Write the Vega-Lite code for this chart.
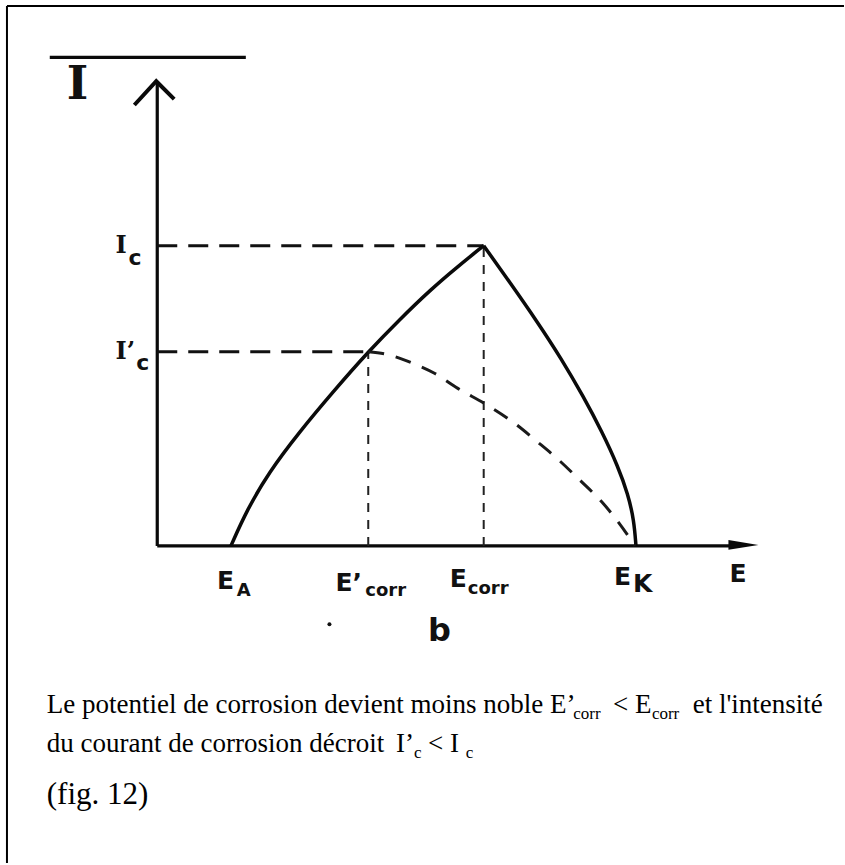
{
  "$schema": "https://vega.github.io/schema/vega-lite/v6.json",
  "width": 845,
  "height": 865,
  "autosize": {"type": "fit", "contains": "padding"},
  "padding": 0,
  "background": "white",
  "view": {"stroke": null},
  "datasets": {
    "frame": [
      {"E": -15.1, "E2": -15.1, "I": -32, "I2": 54.5},
      {"E": -15.1, "E2": 69, "I": 54.5, "I2": 54.5}
    ],
    "axes": [
      {"E": 0, "E2": 0, "I": 0, "I2": 46.9},
      {"E": 0, "E2": 58.5, "I": 0, "I2": 0},
      {"E": -10.8, "E2": 8.9, "I": 49.3, "I2": 49.3}
    ],
    "arrowUp": [
      {"E": -2.3, "I": 44.5, "k": 0},
      {"E": -0.1, "I": 46.9, "k": 1},
      {"E": 1.7, "I": 45.1, "k": 2}
    ],
    "arrowRight": [{"E": 58.9, "I": 0.1}],
    "levels": [
      {"E": 0, "E2": 32.8, "I": 30.3, "I2": 30.3},
      {"E": 0, "E2": 21.2, "I": 19.6, "I2": 19.6}
    ],
    "drops": [
      {"E": 21.2, "E2": 21.2, "I": 0, "I2": 19.6},
      {"E": 32.8, "E2": 32.8, "I": 0, "I2": 30.3}
    ],
    "curves": [
      {"branch": "anodique", "E": 7.4, "I": 0},
      {"branch": "anodique", "E": 9.0, "I": 3.6},
      {"branch": "anodique", "E": 11.2, "I": 7.4},
      {"branch": "anodique", "E": 14.2, "I": 11.4},
      {"branch": "anodique", "E": 17.7, "I": 15.6},
      {"branch": "anodique", "E": 21.2, "I": 19.6},
      {"branch": "anodique", "E": 24.3, "I": 22.8},
      {"branch": "anodique", "E": 27.5, "I": 25.9},
      {"branch": "anodique", "E": 30.2, "I": 28.2},
      {"branch": "anodique", "E": 32.8, "I": 30.3},
      {"branch": "cathodique", "E": 32.8, "I": 30.3},
      {"branch": "cathodique", "E": 35.5, "I": 26.5},
      {"branch": "cathodique", "E": 38.2, "I": 22.6},
      {"branch": "cathodique", "E": 40.6, "I": 18.9},
      {"branch": "cathodique", "E": 42.8, "I": 15.1},
      {"branch": "cathodique", "E": 44.7, "I": 11.5},
      {"branch": "cathodique", "E": 46.3, "I": 8.0},
      {"branch": "cathodique", "E": 47.3, "I": 5.2},
      {"branch": "cathodique", "E": 47.9, "I": 2.6},
      {"branch": "cathodique", "E": 48.1, "I": 0},
      {"branch": "cathodique modifiée", "E": 21.2, "I": 19.6},
      {"branch": "cathodique modifiée", "E": 23.2, "I": 19.3},
      {"branch": "cathodique modifiée", "E": 25.5, "I": 18.5},
      {"branch": "cathodique modifiée", "E": 27.9, "I": 17.4},
      {"branch": "cathodique modifiée", "E": 30.2, "I": 15.9},
      {"branch": "cathodique modifiée", "E": 33.0, "I": 14.3},
      {"branch": "cathodique modifiée", "E": 36.0, "I": 12.3},
      {"branch": "cathodique modifiée", "E": 38.2, "I": 10.5},
      {"branch": "cathodique modifiée", "E": 40.2, "I": 8.8},
      {"branch": "cathodique modifiée", "E": 42.5, "I": 6.6},
      {"branch": "cathodique modifiée", "E": 44.7, "I": 4.4},
      {"branch": "cathodique modifiée", "E": 46.4, "I": 2.3},
      {"branch": "cathodique modifiée", "E": 48.0, "I": 0}
    ],
    "bigLetters": [
      {"t": "E", "E": 6.0, "I": -4.4},
      {"t": "E’", "E": 17.9, "I": -4.6},
      {"t": "E", "E": 29.4, "I": -4.1},
      {"t": "E", "E": 45.9, "I": -3.9},
      {"t": "K", "E": 47.8, "I": -4.7},
      {"t": "E", "E": 57.5, "I": -3.6}
    ],
    "subLetters": [
      {"t": "A", "E": 8.0, "I": -5.1},
      {"t": "corr", "E": 20.9, "I": -5.1},
      {"t": "corr", "E": 31.2, "I": -4.9}
    ],
    "yLetters": [
      {"t": "I", "E": -4.2, "I": 29.6},
      {"t": "I’", "E": -4.2, "I": 18.9}
    ],
    "ySubs": [
      {"t": "c", "E": -2.9, "I": 28.4},
      {"t": "c", "E": -2.1, "I": 17.8}
    ],
    "axisTitle": [{"t": "I", "E": -8.0, "I": 45.1}],
    "panel": [{"t": "b", "E": 27.2, "I": -9.6}],
    "speck": [{"E": 17.3, "I": -7.9}],
    "caption": [
      {"t": "Le potentiel de corrosion devient moins noble E’", "E": -11.1, "I": -16.9},
      {"t": "< E", "E": 45.8, "I": -16.9},
      {"t": "et l'intensité", "E": 53.8, "I": -16.9},
      {"t": "du courant de corrosion décroit", "E": -11.1, "I": -20.8},
      {"t": "I’", "E": 24.0, "I": -20.8},
      {"t": "< I", "E": 27.2, "I": -20.8}
    ],
    "captionSubs": [
      {"t": "corr", "E": 41.8, "I": -17.5},
      {"t": "corr", "E": 49.7, "I": -17.5},
      {"t": "c", "E": 25.8, "I": -21.4},
      {"t": "c", "E": 31.0, "I": -21.4}
    ],
    "figure": [{"t": "(fig. 12)", "E": -11.1, "I": -26.1}]
  },
  "encoding": {
    "x": {"field": "E", "type": "quantitative", "scale": {"domain": [-15.8, 68.7], "nice": false, "zero": false}, "axis": null},
    "y": {"field": "I", "type": "quantitative", "scale": {"domain": [-31.4, 55.1], "nice": false, "zero": false}, "axis": null}
  },
  "layer": [
    {
      "data": {"name": "frame"},
      "mark": {"type": "rule", "color": "#000", "strokeWidth": 2},
      "encoding": {"x2": {"field": "E2"}, "y2": {"field": "I2"}}
    },
    {
      "data": {"name": "axes"},
      "mark": {"type": "rule", "color": "#0a0a0a", "strokeWidth": 3.2},
      "encoding": {"x2": {"field": "E2"}, "y2": {"field": "I2"}}
    },
    {
      "data": {"name": "arrowUp"},
      "mark": {"type": "line", "color": "#0a0a0a", "strokeWidth": 4, "strokeJoin": "miter", "strokeCap": "butt"},
      "encoding": {"order": {"field": "k", "type": "quantitative"}}
    },
    {
      "data": {"name": "arrowRight"},
      "mark": {"type": "point", "shape": "M1,0L-1,-0.33L-1,0.33Z", "filled": true, "size": 900, "color": "#0a0a0a", "opacity": 1}
    },
    {
      "data": {"name": "levels"},
      "mark": {"type": "rule", "color": "#111", "strokeWidth": 3, "strokeDash": [20, 11]},
      "encoding": {"x2": {"field": "E2"}, "y2": {"field": "I2"}}
    },
    {
      "data": {"name": "drops"},
      "mark": {"type": "rule", "color": "#222", "strokeWidth": 2, "strokeDash": [9, 8]},
      "encoding": {"x2": {"field": "E2"}, "y2": {"field": "I2"}}
    },
    {
      "data": {"name": "curves"},
      "transform": [{"filter": "datum.branch !== 'cathodique modifiée'"}],
      "mark": {"type": "line", "color": "#0a0a0a", "strokeWidth": 3.5, "interpolate": "basis"},
      "encoding": {"detail": {"field": "branch", "type": "nominal"}}
    },
    {
      "data": {"name": "curves"},
      "transform": [{"filter": "datum.branch === 'cathodique modifiée'"}],
      "mark": {"type": "line", "color": "#1a1a1a", "strokeWidth": 3, "strokeDash": [16, 12], "interpolate": "monotone"},
      "encoding": {"detail": {"field": "branch", "type": "nominal"}}
    },
    {
      "data": {"name": "bigLetters"},
      "mark": {"type": "text", "align": "left", "baseline": "alphabetic", "font": "DejaVu Sans", "fontSize": 25, "fontWeight": "bold", "color": "#111"},
      "encoding": {"text": {"field": "t"}}
    },
    {
      "data": {"name": "subLetters"},
      "mark": {"type": "text", "align": "left", "baseline": "alphabetic", "font": "DejaVu Sans", "fontSize": 18, "fontWeight": "bold", "color": "#111"},
      "encoding": {"text": {"field": "t"}}
    },
    {
      "data": {"name": "yLetters"},
      "mark": {"type": "text", "align": "left", "baseline": "alphabetic", "font": "DejaVu Serif", "fontSize": 24, "fontWeight": "bold", "color": "#111"},
      "encoding": {"text": {"field": "t"}}
    },
    {
      "data": {"name": "ySubs"},
      "mark": {"type": "text", "align": "left", "baseline": "alphabetic", "font": "DejaVu Sans", "fontSize": 22, "fontWeight": "bold", "color": "#111"},
      "encoding": {"text": {"field": "t"}}
    },
    {
      "data": {"name": "axisTitle"},
      "mark": {"type": "text", "align": "center", "baseline": "alphabetic", "font": "DejaVu Serif", "fontSize": 46, "fontWeight": "bold", "color": "#111"},
      "encoding": {"text": {"field": "t"}}
    },
    {
      "data": {"name": "panel"},
      "mark": {"type": "text", "align": "left", "baseline": "alphabetic", "font": "DejaVu Sans", "fontSize": 32, "fontWeight": "bold", "color": "#111"},
      "encoding": {"text": {"field": "t"}}
    },
    {
      "data": {"name": "speck"},
      "mark": {"type": "point", "shape": "circle", "filled": true, "size": 16, "color": "#111", "opacity": 1}
    },
    {
      "data": {"name": "caption"},
      "mark": {"type": "text", "align": "left", "baseline": "alphabetic", "font": "Liberation Serif", "fontSize": 27, "color": "#000"},
      "encoding": {"text": {"field": "t"}}
    },
    {
      "data": {"name": "captionSubs"},
      "mark": {"type": "text", "align": "left", "baseline": "alphabetic", "font": "Liberation Serif", "fontSize": 17, "color": "#000"},
      "encoding": {"text": {"field": "t"}}
    },
    {
      "data": {"name": "figure"},
      "mark": {"type": "text", "align": "left", "baseline": "alphabetic", "font": "Liberation Serif", "fontSize": 31, "color": "#000"},
      "encoding": {"text": {"field": "t"}}
    }
  ]
}
